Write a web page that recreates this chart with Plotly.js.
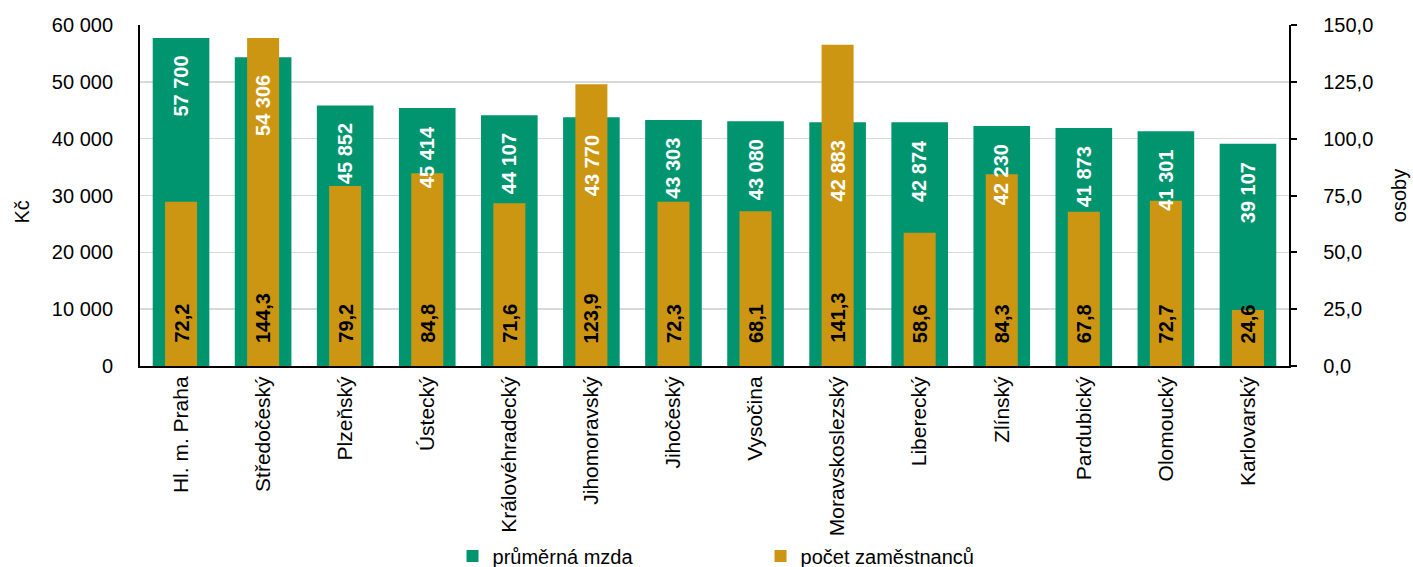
<!DOCTYPE html>
<html>
<head>
<meta charset="utf-8">
<script src="https://cdn.plot.ly/plotly-3.0.1.min.js"></script>
<style>html,body{margin:0;padding:0;background:#fff;}#chart{width:1413px;height:567px;}</style>
</head>
<body>
<div id="chart"></div>
<script>
const regions = ["Hl. m. Praha","Středočeský","Plzeňský","Ústecký","Královéhradecký","Jihomoravský","Jihočeský","Vysočina","Moravskoslezský","Liberecký","Zlínský","Pardubický","Olomoucký","Karlovarský"];
const mzda = [57700,54306,45852,45414,44107,43770,43303,43080,42883,42874,42230,41873,41301,39107];
const osoby = [72.2,144.3,79.2,84.8,71.6,123.9,72.3,68.1,141.3,58.6,84.3,67.8,72.7,24.6];

const GREEN = '#00956F';
const GOLD = '#CC9613';
const FONT = 'Liberation Sans, Arial, sans-serif';
const NB = '\u00a0';

function fmtInt(v){ return String(Math.round(v)).replace(/\B(?=(\d{3})+(?!\d))/g,' '); }
function fmtDec(v){ return v.toFixed(1).replace('.',','); }

const traces = [
  {type:'bar', name:'průměrná mzda', x:regions, y:mzda, yaxis:'y', width:0.69,
   marker:{color:GREEN}, hoverinfo:'skip'},
  {type:'bar', name:'počet zaměstnanců', x:regions, y:osoby, yaxis:'y2', width:0.39,
   marker:{color:GOLD}, hoverinfo:'skip'}
];

const annotations = [];
regions.forEach((r,i)=>{
  annotations.push({x:r, y:mzda[i], xref:'x', yref:'y', text:'<b>'+fmtInt(mzda[i])+'</b>',
    showarrow:false, textangle:-90, yanchor:'top', xanchor:'center', yshift:-16,
    font:{family:FONT, size:20, color:'#ffffff'}});
  annotations.push({x:r, y:0, xref:'x', yref:'y2', text:'<b>'+fmtDec(osoby[i])+'</b>',
    showarrow:false, textangle:-90, yanchor:'bottom', xanchor:'center', yshift:21,
    font:{family:FONT, size:20, color:'#000000'}});
});
// left axis title (placed as annotation to match its vertical offset)
annotations.push({x:0, y:0.45, xref:'paper', yref:'paper', text:'Kč', showarrow:false,
  textangle:-90, xanchor:'center', yanchor:'middle', xshift:-118,
  font:{family:FONT, size:20, color:'#000'}});

const layout = {
  width:1413, height:567,
  margin:{l:140, r:124, t:25, b:201, pad:0, autoexpand:false},
  paper_bgcolor:'#ffffff', plot_bgcolor:'#ffffff',
  separators:', ',
  barmode:'overlay',
  font:{family:FONT, size:20, color:'#000'},
  showlegend:true,
  legend:{orientation:'h', x:0.272, xanchor:'left', y:-0.5, yanchor:'top',
    font:{family:FONT, size:20, color:'#000'}, entrywidth:263, itemwidth:30, traceorder:'normal',
    itemclick:false, itemdoubleclick:false},
  xaxis:{type:'category', tickangle:-90, showline:true, linecolor:'#000', linewidth:2,
    ticks:'', showgrid:false, tickfont:{family:FONT, size:21}, ticklen:0, automargin:false},
  yaxis:{range:[0,60000], dtick:10000, tickformat:',d', showline:true, linecolor:'#000', linewidth:2,
    ticks:'', showgrid:true, gridcolor:'#d9d9d9', gridwidth:1.5, zeroline:false,
    tickfont:{family:FONT, size:20}, ticklabelstandoff:21, automargin:false},
  yaxis2:{range:[0,150], dtick:25, tickformat:'.1f', overlaying:'y', side:'right',
    showline:true, linecolor:'#000', linewidth:2, ticks:'outside', ticklen:6, tickwidth:2, tickcolor:'#000',
    showgrid:false, zeroline:false, tickfont:{family:FONT, size:20}, tickprefix:NB.repeat(4),
    title:{text:'osoby', font:{family:FONT, size:20}, standoff:20}, automargin:false},
  annotations:annotations
};

Plotly.newPlot('chart', traces, layout, {staticPlot:true, displayModeBar:false});
</script>
</body>
</html>
